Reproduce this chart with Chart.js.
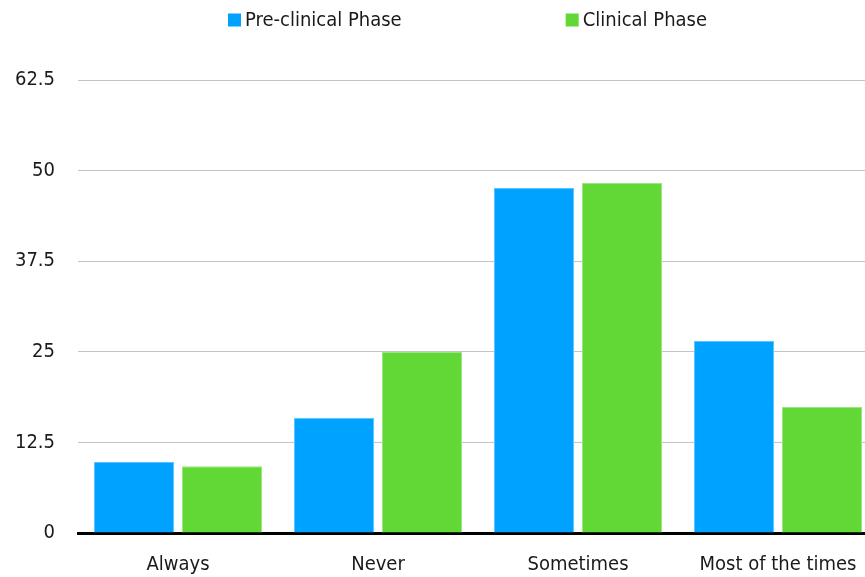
<!DOCTYPE html>
<html>
<head>
<meta charset="utf-8">
<script src="https://cdn.jsdelivr.net/npm/chart.js@4/dist/chart.umd.min.js"></script>
<style>
html,body{margin:0;padding:0;background:#fff;overflow:hidden;}
#wrap{position:relative;width:865px;height:577px;overflow:hidden;}
#c{display:block;}
</style>
</head>
<body>
<div id="wrap"><canvas id="c" width="878" height="577"></canvas></div>
<script>
const categories = ["Always", "Never", "Sometimes", "Most of the times"];
const seriesNames = ["Pre-clinical Phase", "Clinical Phase"];
const preClinical = [9.8, 15.9, 47.6, 26.5];
const clinical = [9.2, 25.0, 48.3, 17.4];
const yTicks = [0, 12.5, 25, 37.5, 50, 62.5];

const FONT = "'Liberation Sans Narrow', 'DejaVu Sans Condensed', 'Arial Narrow', sans-serif";
const colors = ['#00a2ff', '#61d836'];

const legendPlugin = {
  id: 'customLegend',
  afterDraw(chart) {
    const ctx = chart.ctx;
    ctx.save();
    ctx.font = '20px ' + FONT;
    ctx.textBaseline = 'middle';
    const box = 13, gapBoxText = 4, gapItems = 164;
    const widths = chart.data.datasets.map(d => box + gapBoxText + ctx.measureText(d.label).width);
    const total = widths.reduce((a, b) => a + b, 0) + gapItems * (widths.length - 1);
    let x = chart.width / 2 + 28.5 - total / 2;
    const y = 20;
    chart.data.datasets.forEach((d, i) => {
      ctx.fillStyle = d.backgroundColor;
      ctx.fillRect(x, y - box / 2, box, box);
      ctx.fillStyle = '#1a1a1a';
      ctx.fillText(d.label, x + box + gapBoxText, y + 1);
      x += widths[i] + gapItems;
    });
    ctx.restore();
  }
};

new Chart(document.getElementById('c'), {
  type: 'bar',
  data: {
    labels: categories,
    datasets: [
      { label: seriesNames[0], data: preClinical, backgroundColor: colors[0], borderColor: '#5cc4ff', borderWidth: 1 },
      { label: seriesNames[1], data: clinical, backgroundColor: colors[1], borderColor: '#9be67f', borderWidth: 1 }
    ]
  },
  options: {
    responsive: false,
    animation: false,
    devicePixelRatio: 1,
    layout: { padding: { top: 80, left: 10, right: 0, bottom: 0 } },
    plugins: { legend: { display: false }, tooltip: { enabled: false } },
    datasets: { bar: { categoryPercentage: 0.88, barPercentage: 0.909 } },
    scales: {
      x: {
        grid: { display: false, drawTicks: false },
        border: { display: true, color: '#000', width: 3 },
        ticks: { color: '#1a1a1a', font: { family: FONT, size: 20 }, padding: 20, maxRotation: 0, autoSkip: false },
        afterFit: (axis) => { axis.height = 44; }
      },
      y: {
        min: 0,
        max: 62.5,
        afterBuildTicks: (axis) => { axis.ticks = yTicks.map(v => ({ value: v })); },
        grid: { color: '#c4c4c4', lineWidth: 1, drawTicks: false },
        border: { display: false },
        ticks: { color: '#1a1a1a', font: { family: FONT, size: 20 }, padding: 23,
                 callback: (v) => String(v) },
        afterFit: (axis) => { axis.width = 68; }
      }
    }
  },
  plugins: [legendPlugin]
});
</script>
</body>
</html>
